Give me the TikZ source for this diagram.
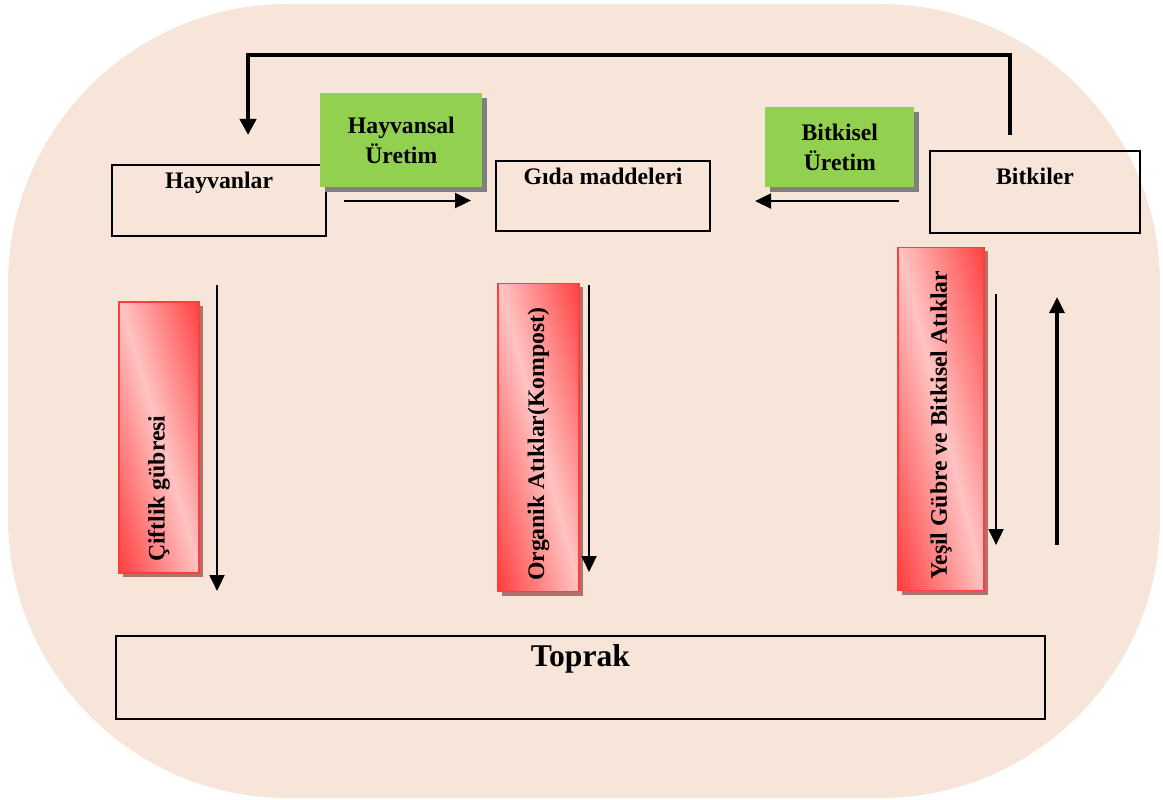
\documentclass[tikz,border=0pt]{standalone}
\usepackage{fontspec}
\setmainfont{Liberation Serif}
\usepackage{graphicx}
\usepackage{xcolor}
\usepackage{tikz}
\usetikzlibrary{arrows.meta,positioning,shadows,calc}
\definecolor{peach}{HTML}{F8E5D9}
\definecolor{leafgreen}{HTML}{92D050}
\definecolor{wastered}{HTML}{FF3F3F}
\definecolor{wastepink}{HTML}{FFC3C3}
\definecolor{redshadow}{HTML}{B0706C}
\definecolor{grayshadow}{HTML}{808080}
\newcommand{\sidetext}[2]{\rotatebox{90}{\makebox[#1][l]{#2}}}
\tikzset{
  box/.style={
    rectangle,
    draw=black,
    line width=1.2pt,
    inner sep=0pt,
    align=center,
    font=\bfseries\fontsize{13.5}{16}\selectfont
  },
  prod/.style={
    rectangle,
    fill=leafgreen,
    inner sep=0pt,
    align=center,
    drop shadow={shadow xshift=0.1cm, shadow yshift=-0.1cm, fill=grayshadow, opacity=1},
    font=\bfseries\fontsize{13.5}{17}\selectfont
  },
  waste/.style={
    rectangle,
    draw=wastered,
    line width=0.6pt,
    fill=wastered,
    path picture={
      \coordinate (sw) at (path picture bounding box.south west);
      \coordinate (se) at (path picture bounding box.south east);
      \coordinate (nw) at (path picture bounding box.north west);
      \foreach \s [evaluate=\s as \mix using {100-100*abs(\s-1)},
                   evaluate=\s as \lo using {\s+1},
                   evaluate=\s as \hi using {\s+1.05}] in {0,0.04,...,1.96}
        \fill[wastepink!\mix!wastered] ($(sw)!\lo!(nw)-(se)+(sw)$) -- ($(sw)!\lo!(se)-(nw)+(sw)$)
          -- ($(sw)!\hi!(se)-(nw)+(sw)$) -- ($(sw)!\hi!(nw)-(se)+(sw)$) -- cycle;
    },
    inner xsep=0pt,
    inner ysep=0.22cm,
    drop shadow={shadow xshift=0.08cm, shadow yshift=-0.08cm, fill=redshadow, opacity=1},
    font=\bfseries\fontsize{13.5}{16}\selectfont
  },
  arrow/.style={-{Triangle[length=0.32cm,width=0.3cm]}, line width=1.1pt},
  backarrow/.style={-{Triangle[length=0.32cm,width=0.32cm]}, line width=2.5pt}
}
\begin{document}
\begin{tikzpicture}[x=0.02cm, y=-0.02cm]
\useasboundingbox (0,0) rectangle (1163,800);
\fill[peach, rounded corners=5.6cm] (8,4) rectangle (1160,798);

\node[box, anchor=north west, minimum width=4.28cm, minimum height=1.42cm,
  text height=0.46cm, text depth=0.96cm] (hayvanlar) at (111,164) {Hayvanlar};
\node[box, anchor=north west, minimum width=4.28cm, minimum height=1.40cm,
  text height=0.46cm, text depth=0.94cm] (gida) at (495,160) {Gıda maddeleri};
\node[box, anchor=north west, minimum width=4.20cm, minimum height=1.64cm,
  text height=0.66cm, text depth=0.98cm] (bitkiler) at (929,150) {Bitkiler};
\node[box, anchor=north west, minimum width=18.58cm, minimum height=1.66cm,
  text height=0.60cm, text depth=1.06cm, font=\bfseries\fontsize{18}{21}\selectfont] (toprak) at (115,635) {Toprak};

\node[prod, anchor=north west, minimum width=3.24cm, minimum height=1.88cm] (hayvansal) at (320,93) {Hayvansal\\Üretim};
\node[prod, anchor=north west, minimum width=2.98cm, minimum height=1.60cm] (bitkisel) at (765,107) {Bitkisel\\Üretim};

\node[waste, minimum width=1.60cm, minimum height=5.42cm] (ciftlik) at (159,437.5) {\sidetext{4.98cm}{Çiftlik gübresi}};
\node[waste, minimum width=1.62cm, minimum height=6.18cm] (organik) at (538.5,437.5) {\sidetext{5.74cm}{Organik Atıklar(Kompost)}};
\node[waste, minimum width=1.72cm, minimum height=6.88cm] (yesil) at (941,419) {\sidetext{6.44cm}{Yeşil Gübre ve Bitkisel Atıklar}};

\draw[arrow, shorten <=0.34cm, shorten >=0.48cm] (hayvanlar.east) -- (hayvanlar.east -| gida.west);
\draw[arrow, shorten <=0.6cm, shorten >=0.88cm] ([yshift=-0.18cm]bitkiler.west) -- ([yshift=-0.18cm]bitkiler.west -| gida.east);
\draw[backarrow] ([shift={(-25,-15)}]bitkiler.north) -- ++(0,-80) -| ([shift={(29,-29)}]hayvanlar.north);

\draw[arrow, shorten <=0.96cm, shorten >=0.88cm] ([xshift=-0.04cm]hayvanlar.south) -- ([xshift=-0.04cm]hayvanlar.south |- toprak.north);
\draw[arrow, shorten <=1.06cm, shorten >=1.26cm] ([xshift=-0.28cm]gida.south) -- ([xshift=-0.28cm]gida.south |- toprak.north);
\draw[arrow, shorten <=1.2cm, shorten >=1.8cm] ([xshift=-0.78cm]bitkiler.south) -- ([xshift=-0.78cm]bitkiler.south |- toprak.north);
\draw[arrow, line width=1.8pt, shorten <=1.8cm, shorten >=1.26cm] ([xshift=0.44cm]bitkiler.south |- toprak.north) -- ([xshift=0.44cm]bitkiler.south);

\end{tikzpicture}
\end{document}
